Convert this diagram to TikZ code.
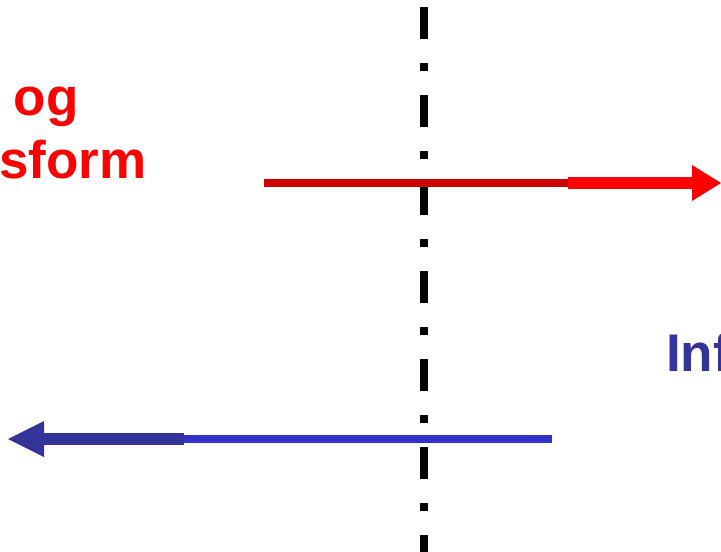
\documentclass[tikz,border=0pt]{standalone}
\usepackage{fontspec}
\setmainfont{Liberation Sans}
\definecolor{rdark}{HTML}{CC0000}
\definecolor{rbright}{HTML}{FF0000}
\definecolor{blight}{HTML}{3333CC}
\definecolor{bdark}{HTML}{333399}
\tikzset{
  lbl/.style={inner sep=0pt, anchor=base west, font=\fontsize{53}{60}\selectfont\bfseries},
  thinline/.style={line width=8pt},
  thickline/.style={line width=12pt},
  axis/.style={line width=8pt, black, dash pattern=on 32pt off 24pt on 8pt off 24pt}
}
\begin{document}
\begin{tikzpicture}[x=1pt,y=-1pt]
\useasboundingbox (0,0) rectangle (721,552);
\clip (0,0) rectangle (721,552);
% axis
\coordinate (ax1) at (424,7);
\coordinate (ax2) at (424,580);
\draw[axis] (ax1) -- (ax2);
% red arrow
\coordinate (r1) at (264,183);
\coordinate (r2) at (568,183);
\coordinate (r3) at (692,183);
\coordinate (rt) at (721,183);
\draw[thinline, rdark] (r1) -- (r2);
\draw[thickline, rbright] (r2) -- ([xshift=1pt]r3);
\fill[rbright] ([yshift=-18pt]r3) -- (rt) -- ([yshift=18pt]r3) -- cycle;
% blue arrow
\coordinate (b1) at (552,439);
\coordinate (b2) at (184,439);
\coordinate (b3) at (44,439);
\coordinate (bt) at (8,439);
\draw[thinline, blight] (b1) -- (b2);
\draw[thickline, bdark] (b2) -- ([xshift=-1pt]b3);
\fill[bdark] ([yshift=-18pt]b3) -- (bt) -- ([yshift=18pt]b3) -- cycle;
% labels
\node[lbl, text=rbright] (t1) at (13.5,115) {og};
\node[lbl, text=rbright] (t2) at (-1,178) {sform};
\node[lbl, text=bdark] (t3) at (666,371) {Inf};
\end{tikzpicture}
\end{document}
